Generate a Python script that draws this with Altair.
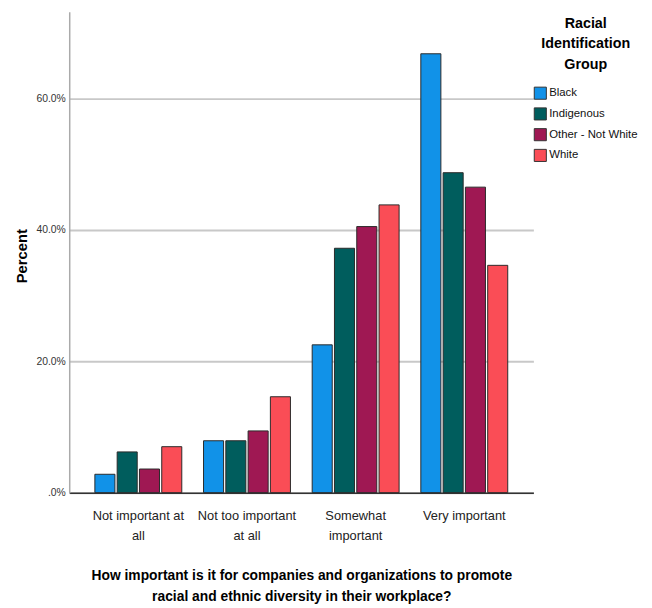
import altair as alt
import pandas as pd

categories = ["Not important at all", "Not too important at all", "Somewhat important", "Very important"]
groups = ["Black", "Indigenous", "Other - Not White", "White"]
colors = ["#1192E8", "#005D5D", "#9F1853", "#FA4D56"]

black = [0.028, 0.079, 0.225, 0.668]
indigenous = [0.062, 0.079, 0.372, 0.487]
other = [0.036, 0.094, 0.405, 0.465]
white = [0.070, 0.146, 0.438, 0.346]

series = {"Black": black, "Indigenous": indigenous, "Other - Not White": other, "White": white}
rows = []
for g in groups:
    for c, v in zip(categories, series[g]):
        rows.append({"response": c, "group": g, "pct": v})
df = pd.DataFrame(rows)

SANS = "Liberation Sans, Arial"

label_expr = (
    "datum.label == 'Not important at all' ? ['Not important at', 'all'] : "
    "datum.label == 'Not too important at all' ? ['Not too important', 'at all'] : "
    "datum.label == 'Somewhat important' ? ['Somewhat', 'important'] : datum.label"
)

chart = alt.Chart(df).mark_bar(stroke="#2a2a2a", strokeWidth=1).encode(
    x=alt.X(
        "response:N",
        sort=categories,
        scale=alt.Scale(paddingInner=0.2, paddingOuter=0.236),
        axis=alt.Axis(
            title=["How important is it for companies and organizations to promote",
                   "racial and ethnic diversity in their workplace?"],
            titleFont=SANS, titleFontSize=14, titleFontWeight="bold", titleColor="#000",
            titleLineHeight=21, titlePadding=27,
            labelExpr=label_expr, labelAngle=0, labelFont=SANS, labelFontSize=13,
            labelColor="#222", labelLineHeight=20, labelPadding=17, labelBaseline="top",
            labelOverlap=False,
            ticks=False, domainColor="#333", domainWidth=1.5, grid=False,
        ),
    ),
    xOffset=alt.XOffset("group:N", sort=groups, scale=alt.Scale(paddingInner=0.1)),
    y=alt.Y(
        "pct:Q",
        scale=alt.Scale(domain=[0, 0.732], nice=False),
        axis=alt.Axis(
            title="Percent", titleFont=SANS, titleFontSize=15, titleFontWeight="bold",
            titleColor="#000", titleX=-48, titleY=247, titleAngle=270,
            titleBaseline="middle", titleAlign="center",
            values=[0, 0.2, 0.4, 0.6],
            labelExpr="datum.value == 0 ? '.0%' : format(datum.value, '.1%')",
            labelFont=SANS, labelFontSize=10.5, labelColor="#333", labelPadding=4,
            ticks=False, domainColor="#aaa", domainWidth=1.5,
            grid=True, gridColor="#c8c8c8", gridWidth=2,
        ),
    ),
    color=alt.Color(
        "group:N",
        sort=groups,
        scale=alt.Scale(domain=groups, range=colors),
        legend=alt.Legend(
            title=["Racial", "Identification", "Group"],
            titleFont=SANS, titleFontSize=14.5, titleFontWeight="bold", titleColor="#000",
            titleLineHeight=21, titleAnchor="middle", titleAlign="center", titlePadding=14,
            labelFont=SANS, labelFontSize=11.5, labelColor="#111", labelOffset=2,
            symbolType="square", symbolSize=150, symbolStrokeColor="#333",
            symbolStrokeWidth=1, rowPadding=3,
            orient="none", legendX=470, legendY=5,
        ),
    ),
).properties(
    width=470, height=487,
    autosize=alt.AutoSizeParams(type="none"),
    padding={"left": 62, "top": 0, "right": 112, "bottom": 112},
).configure_view(stroke=None)

chart.save("out.html", embed_options={"renderer": "svg", "actions": False})
